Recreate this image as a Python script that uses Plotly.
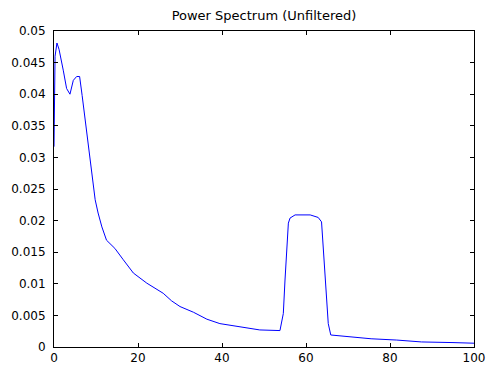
import plotly.graph_objects as go

freq = [0, 0.25, 0.7, 1.2, 2.2, 3.0, 3.8, 4.6, 5.4, 6.1, 6.7, 7.4, 8.3, 9.0, 9.8,
        10.5, 11.4, 12.5, 14.5, 16.5, 18.9, 22.1, 26.0, 28.0, 30.0, 33.2, 36.4,
        39.5, 42.7, 45.9, 49.0, 53.8, 54.6, 55.0, 55.4, 55.8, 56.2, 57.4, 61.0,
        62.9, 63.7, 64.1, 64.8, 65.3, 65.9, 67.3, 70.5, 75.5, 81.6, 87.5, 95.0, 100]
power = [0.0317, 0.0460, 0.0481, 0.0471, 0.0438, 0.0409, 0.0400, 0.0422, 0.0428,
         0.0428, 0.0398, 0.0359, 0.0310, 0.0270, 0.0233, 0.0212, 0.0190, 0.0169,
         0.0156, 0.0138, 0.0117, 0.0101, 0.0085, 0.0073, 0.0064, 0.0055, 0.0044,
         0.0037, 0.0034, 0.0031, 0.0027, 0.0026, 0.0053, 0.0106, 0.0153, 0.0196,
         0.0204, 0.0209, 0.0209, 0.0205, 0.0198, 0.0159, 0.0090, 0.0037, 0.0019,
         0.0018, 0.0016, 0.0013, 0.0011, 0.0008, 0.0007, 0.0006]

title_text = "Power Spectrum (Unfiltered)"
x_ticks = [0, 20, 40, 60, 80, 100]
y_ticks = [0, 0.005, 0.01, 0.015, 0.02, 0.025, 0.03, 0.035, 0.04, 0.045, 0.05]

fig = go.Figure()
fig.add_trace(go.Scatter(x=freq, y=power, mode="lines",
                         line=dict(color="#0000ff", width=1), showlegend=False))

axis_common = dict(showline=True, linecolor="black", linewidth=1, mirror="ticks",
                   ticks="inside", ticklen=4, tickcolor="black", showgrid=False,
                   zeroline=False, automargin=False,
                   tickfont=dict(family="DejaVu Sans", size=12, color="black"))

fig.update_layout(
    width=486, height=367,
    margin=dict(l=54, r=12, t=31, b=20, pad=0),
    paper_bgcolor="white", plot_bgcolor="white",
    title=dict(text=title_text, x=0.5, xref="paper", y=1 - 15 / 367, yref="container",
               xanchor="center", yanchor="middle",
               font=dict(family="DejaVu Sans", size=13, color="black")),
    xaxis=dict(range=[0, 100], tickvals=x_ticks, ticklabelstandoff=0, **axis_common),
    yaxis=dict(range=[0, 0.05], tickvals=y_ticks, ticklabelstandoff=5, **axis_common),
)

fig.write_html("out.html", config={"displayModeBar": False},
               post_script="document.body.style.margin='0';")
